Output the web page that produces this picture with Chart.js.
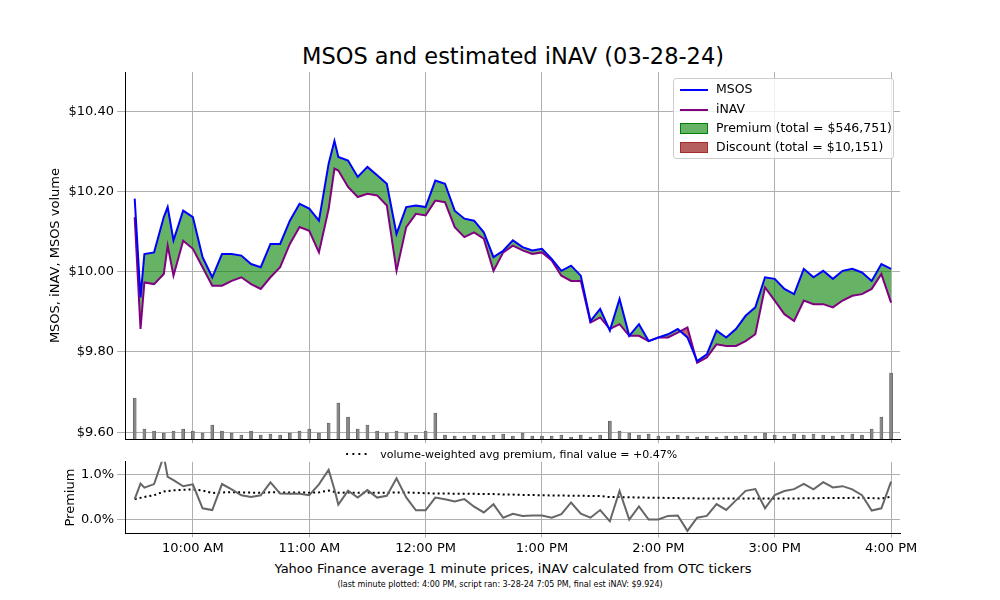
<!DOCTYPE html>
<html>
<head>
<meta charset="utf-8">
<script src="https://cdn.jsdelivr.net/npm/chart.js@4.4.0/dist/chart.umd.min.js"></script>
<style>
  body { margin: 0; background: #fff; font-family: 'DejaVu Sans', sans-serif; }
  #wrap { position: relative; width: 1000px; height: 600px; }
  .abs { position: absolute; }
  #title { left: 0; width: 1026px; top: 43px; text-align: center; font-size: 22.5px; }
  #legend { left: 673px; top: 78px; width: 219px; height: 79px; border: 1px solid #ccc; border-radius: 3px; background: rgba(255,255,255,0.8); font-size: 12.5px; }
  .item { position: absolute; left: 6px; height: 14px; line-height: 14px; }
  .item span { display: inline-block; vertical-align: middle; margin-right: 8px; }
  #vw { top: 448px; left: 345px; font-size: 11px; }
  #xt { top: 561px; left: 0; width: 1026px; text-align: center; font-size: 13px; }
  #cap { top: 580px; left: 0; width: 1000px; text-align: center; font-size: 8px; }
</style>
</head>
<body>
<div id="wrap">
  <div id="title" class="abs">MSOS and estimated iNAV (03-28-24)</div>
  <canvas id="main" class="abs" style="left:0;top:40px;"></canvas>
  <canvas id="prem" class="abs" style="left:0;top:451px;"></canvas>
  <div id="legend" class="abs">
    <div class="item" style="top:3px"><span style="width:28px;height:2px;background:#0000ff"></span>MSOS</div>
    <div class="item" style="top:23px"><span style="width:28px;height:2px;background:#800080"></span>iNAV</div>
    <div class="item" style="top:42px"><span style="width:26px;height:9px;background:#66b266;border:1px solid #008000"></span>Premium (total = $546,751)</div>
    <div class="item" style="top:61px"><span style="width:26px;height:9px;background:#b5605e;border:1px solid #a52a2a"></span>Discount (total = $10,151)</div>
  </div>
  <div id="vw" class="abs"><span style="letter-spacing:2px;font-weight:bold">····</span>&nbsp;&nbsp;&nbsp;volume-weighted avg premium, final value = +0.47%</div>
  <div id="xt" class="abs">Yahoo Finance average 1 minute prices, iNAV calculated from OTC tickers</div>
  <div id="cap" class="abs">(last minute plotted: 4:00 PM, script ran: 3-28-24 7:05 PM, final est iNAV: $9.924)</div>
</div>
<script>
// [minutes after 9:30, MSOS, iNAV]
const prices = [
  [0,10.182,10.136],[3,9.936,9.857],[5,10.044,9.973],[10,10.048,9.969],[15,10.136,9.994],
  [17,10.161,10.065],[20,10.078,9.990],[25,10.152,10.077],[30,10.136,10.057],[35,10.036,10.011],
  [40,9.986,9.965],[45,10.044,9.965],[50,10.044,9.977],[55,10.040,9.986],[60,10.019,9.969],
  [65,10.011,9.957],[70,10.069,9.986],[75,10.069,10.011],[80,10.127,10.069],[85,10.169,10.111],
  [90,10.157,10.102],[95,10.127,10.048],[100,10.269,10.156],[103,10.326,10.257],[105,10.286,10.252],
  [110,10.277,10.211],[115,10.236,10.186],[120,10.261,10.194],[125,10.240,10.190],[130,10.219,10.165],
  [135,10.094,10.002],[140,10.161,10.111],[145,10.165,10.144],[150,10.161,10.140],[155,10.227,10.177],
  [160,10.219,10.173],[165,10.152,10.111],[170,10.132,10.086],[175,10.127,10.098],[180,10.098,10.082],
  [185,10.036,10.002],[190,10.052,10.048],[195,10.078,10.065],[200,10.061,10.053],[205,10.053,10.044],
  [210,10.057,10.048],[215,10.032,10.028],[220,10.002,9.990],[225,10.015,9.977],[230,9.990,9.977],
  [235,9.877,9.873],[240,9.907,9.886],[245,9.853,9.857],[250,9.932,9.869],[255,9.840,9.840],
  [260,9.869,9.840],[265,9.827,9.827],[270,9.836,9.836],[275,9.844,9.836],[280,9.857,9.848],
  [285,9.836,9.861],[290,9.777,9.773],[295,9.794,9.786],[300,9.853,9.819],[305,9.836,9.815],
  [310,9.857,9.815],[315,9.890,9.827],[320,9.911,9.844],[325,9.986,9.961],[330,9.982,9.928],
  [335,9.957,9.894],[340,9.944,9.877],[345,10.007,9.928],[350,9.986,9.919],[355,10.002,9.919],
  [360,9.982,9.911],[365,10.002,9.928],[370,10.007,9.940],[375,9.998,9.944],[380,9.977,9.957],
  [385,10.019,9.994],[390,10.007,9.923]
];
// MSOS volume (thousand shares) per 5-minute step from 9:30
const volume = [41,10,8,6,8,10,8,6,14,8,6,4,8,4,5,4,6,8,10,6,16,36,22,10,14,8,6,8,6,4,8,26,4,3,3,4,3,4,5,3,
  6,3,3,3,4,2,4,2,4,18,8,6,4,5,3,3,4,3,2,3,2,3,3,4,3,6,4,3,5,4,5,4,3,4,5,4,10,22,66];

const T0 = 570; // 9:30 in minutes
const msos = prices.map(p => ({x: T0 + p[0], y: p[1]}));
const inav = prices.map(p => ({x: T0 + p[0], y: p[2]}));
const vol = volume.map((v, i) => ({x: T0 + i * 5, y: v}));
const prem = prices.map(p => ({x: T0 + p[0], y: (p[1] / p[2] - 1) * 100}));

// volume-weighted running premium
let sw = 0, sv = 0;
const vwap = vol.map(v => {
  const p = prices.reduce((a, b) => Math.abs(T0 + b[0] - v.x) < Math.abs(T0 + a[0] - v.x) ? b : a);
  sw += (p[1] / p[2] - 1) * 100 * v.y;
  sv += v.y;
  return {x: v.x, y: sw / sv};
});

Chart.defaults.font.family = 'DejaVu Sans';
Chart.defaults.font.size = 13;
Chart.defaults.color = '#000';
Chart.defaults.animation = false;

const hourTicks = s => { s.ticks = [600, 660, 720, 780, 840, 900, 960].map(v => ({value: v})); };
const fmtTime = v => {
  const h = Math.floor(v / 60);
  return (h > 12 ? h - 12 : h) + ':00 ' + (h >= 12 ? 'PM' : 'AM');
};
const grid = {color: '#b0b0b0', lineWidth: 1};
const border = {color: '#000', width: 1};

const mainCanvas = document.getElementById('main');
mainCanvas.width = 910; mainCanvas.height = 410;
new Chart(mainCanvas, {
  type: 'line',
  data: {
    datasets: [
      {data: msos, borderColor: '#0000ff', borderWidth: 2, pointRadius: 0, tension: 0,
       fill: {target: 1, above: 'rgba(0,128,0,0.6)', below: 'rgba(165,42,42,0.7)'}},
      {data: inav, borderColor: '#800080', borderWidth: 2, pointRadius: 0, tension: 0, fill: false},
      {type: 'bar', data: vol, yAxisID: 'yVol', backgroundColor: '#888', borderColor: '#444', borderWidth: 0.5,
       barThickness: 3}
    ]
  },
  options: {
    responsive: false,
    layout: {padding: {top: 32, right: 10, bottom: 0, left: 44}},
    plugins: {legend: {display: false}, tooltip: {enabled: false}, filler: {drawTime: 'beforeDatasetsDraw'}},
    scales: {
      x: {type: 'linear', min: 565, max: 964.6, offset: false, afterBuildTicks: hourTicks,
          ticks: {display: false}, grid: {...grid, offset: false, tickLength: 4}, border},
      y: {min: 9.5825, max: 10.4975,
          afterBuildTicks: s => { s.ticks = [9.6, 9.8, 10.0, 10.2, 10.4].map(v => ({value: v})); },
          afterFit: s => { s.width = 81; },
          ticks: {callback: v => '$' + v.toFixed(2)}, grid, border,
          title: {display: true, text: 'MSOS, iNAV, MSOS volume', font: {size: 13}}},
      yVol: {display: false, min: 0, max: 366}
    }
  }
});

const premCanvas = document.getElementById('prem');
premCanvas.width = 960; premCanvas.height = 108;
new Chart(premCanvas, {
  type: 'line',
  data: {
    datasets: [
      {data: prem, borderColor: '#666', borderWidth: 2, pointRadius: 0, tension: 0},
      {data: vwap, borderColor: '#000', borderWidth: 2, borderDash: [2, 3], pointRadius: 0, tension: 0}
    ]
  },
  options: {
    responsive: false,
    layout: {padding: {top: 10, right: 60, bottom: 0, left: 59}},
    plugins: {legend: {display: false}, tooltip: {enabled: false}},
    scales: {
      x: {type: 'linear', min: 565, max: 964.6, afterBuildTicks: hourTicks,
          afterFit: s => { s.paddingRight = 0; s.paddingLeft = 0; },
          ticks: {callback: fmtTime, maxRotation: 0}, grid: {...grid, tickLength: 4}, border},
      y: {min: -0.31, max: 1.29,
          afterBuildTicks: s => { s.ticks = [0, 1].map(v => ({value: v})); },
          afterFit: s => { s.width = 66; },
          ticks: {callback: v => v.toFixed(1) + '%'}, grid, border,
          title: {display: true, text: 'Premium', font: {size: 13}}}
    }
  }
});
</script>
</body>
</html>
